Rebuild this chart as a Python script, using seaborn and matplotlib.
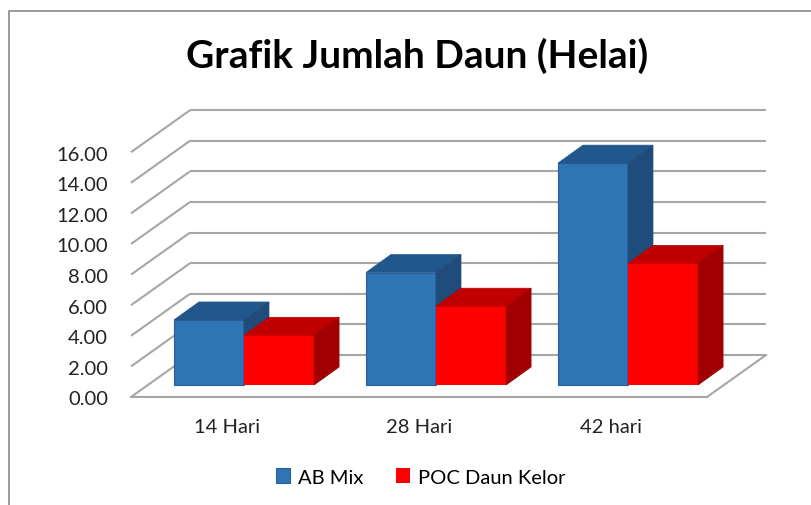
"""
Grafik Jumlah Daun (Helai) - 3D style clustered bars (Excel look)
"""
import pandas as pd
import numpy as np
import matplotlib
matplotlib.use('Agg')
import matplotlib.pyplot as plt
from matplotlib.patches import Polygon, Rectangle, Patch
import seaborn as sns

# ── DATA ──────────────────────────────────────────────────────
categories = ['14 Hari', '28 Hari', '42 hari']
series = ['AB Mix', 'POC Daun Kelor']
ab_mix = [4.25, 7.35, 14.5]
poc_kelor = [3.25, 5.15, 7.95]
y_ticks = [0, 2, 4, 6, 8, 10, 12, 14, 16]

df = pd.DataFrame({
    'hari': categories * 2,
    'perlakuan': [series[0]] * 3 + [series[1]] * 3,
    'jumlah': ab_mix + poc_kelor,
})

# colours: front / top / side
BLUE = ['#2e75b6', '#22578b', '#1f4c7a']
RED = ['#ff0000', '#c00000', '#a00000']
GRID = '#a6a6a6'

# ── GEOMETRY (pixel layout of the original) ───────────────────
W, H = 812, 506
X0, XSC = 244, 192      # px of category 0, px per category
Y0, YSC = 386, 15.3     # px (from top) of value 0, px per unit

def px(dx):
    return dx / XSC

def py(dy):
    return dy / YSC

FRONT = (px(-17), py(-12))   # front plane relative to bar plane
BACK = (px(42), py(30))      # back wall relative to bar plane
BAR_D = (px(25), py(18))     # bar depth

fig = plt.figure(figsize=(W / 100, H / 100), dpi=100)
ax = fig.add_axes([0, 0, 1, 1])

FONT = 'Lato'

# ── WALLS / GRID ──────────────────────────────────────────────
xl, xr = -0.5, 2.5
for v in y_ticks:
    ax.plot([xl + FRONT[0], xl + BACK[0]], [v + FRONT[1], v + BACK[1]],
            color=GRID, lw=1.5, zorder=1, solid_capstyle='butt')
    ax.plot([xl + BACK[0], xr + BACK[0]], [v + BACK[1], v + BACK[1]],
            color=GRID, lw=1.5, zorder=1, solid_capstyle='butt')
    ax.text(px(108 - X0), v + FRONT[1] - py(2), f'{v:.2f}', ha='right',
            va='center', fontsize=14.5, family=FONT, color='#222222')
# floor front and right edge
ax.plot([xl + FRONT[0], xr + FRONT[0]], [FRONT[1], FRONT[1]],
        color=GRID, lw=1.5, zorder=1)
ax.plot([xr + FRONT[0], xr + BACK[0]], [FRONT[1], BACK[1]],
        color=GRID, lw=1.5, zorder=1)

# ── BARS ──────────────────────────────────────────────────────
sns.barplot(data=df, x='hari', y='jumlah', hue='perlakuan', order=categories,
            hue_order=series, palette=[BLUE[0], RED[0]], width=0.73,
            saturation=1, errorbar=None, legend=False, ax=ax)
ax.set_xlim(-X0 / XSC, (W - X0) / XSC)
ax.set_ylim(-(H - Y0) / YSC, Y0 / YSC)
ax.axis('off')

bars = sorted([p for p in ax.patches if p.get_height() > 0], key=lambda p: p.get_x())
for k, bar in enumerate(bars):
    x, w, h = bar.get_x(), bar.get_width(), bar.get_height()
    front = bar.get_facecolor()
    cols = BLUE if abs(front[2] - 0.72) < 0.1 else RED
    z = 10 + k
    bar.set_zorder(z)
    if cols is BLUE:
        bar.set_edgecolor('#2b5f93')
        bar.set_linewidth(0.8)
    else:
        bar.set_linewidth(0)
    dx, dy = BAR_D
    top = Polygon([(x, h), (x + w, h), (x + w + dx, h + dy), (x + dx, h + dy)],
                  closed=True, fc=cols[1], ec=cols[1], lw=0.5, zorder=z)
    side = Polygon([(x + w, 0), (x + w, h), (x + w + dx, h + dy), (x + w + dx, dy)],
                   closed=True, fc=cols[2], ec=cols[2], lw=0.5, zorder=z)
    ax.add_patch(top)
    ax.add_patch(side)

# category labels on the front plane
for i, c in enumerate(categories):
    ax.text(i + FRONT[0], py(Y0 - 428), c, ha='center', va='center',
            fontsize=14.5, family=FONT, color='#222222')

# ── TITLE, LEGEND, BORDER ─────────────────────────────────────
fig.text(417 / W, 1 - 56 / H, 'Grafik Jumlah Daun (Helai)', ha='center',
         va='center', fontsize=28, fontweight='bold', family=FONT, color='black')

handles = [Patch(fc=BLUE[0], ec='#2b5f93', lw=0.8), Patch(fc=RED[0], ec=RED[0], lw=0)]
fig.legend(handles, series, loc='center', bbox_to_anchor=(421 / W, 1 - 478 / H),
           ncol=2, frameon=False, handlelength=0.7, handleheight=0.7,
           handletextpad=0.4, columnspacing=1.6,
           prop={'family': FONT, 'size': 14.5})

fig.add_artist(Rectangle((9.5 / W, -0.1), 1.2, 1 - 11.5 / H + 0.1,
                         transform=fig.transFigure, fill=False,
                         ec='#8a8a8a', lw=1.2))

plt.savefig('out.png', dpi=100)
plt.close()
